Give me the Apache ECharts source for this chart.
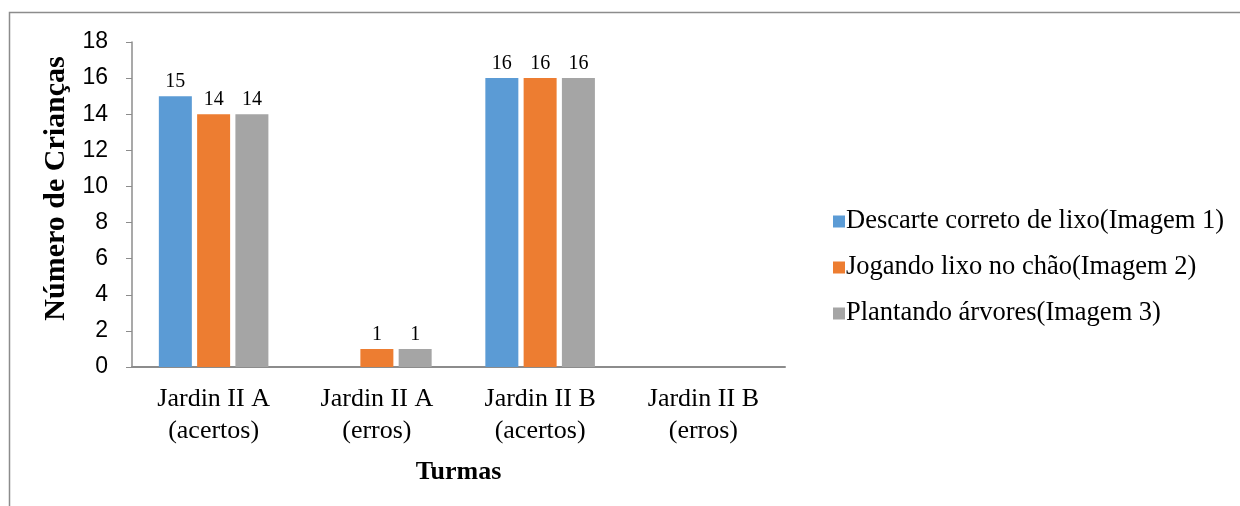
<!DOCTYPE html>
<html><head><meta charset="utf-8">
<script src="https://cdn.jsdelivr.net/npm/echarts@6/dist/echarts.min.js"></script>
<style>html,body{margin:0;padding:0;background:#fff}#c{width:1240px;height:506px}</style>
</head><body><div id="c"></div>
<script>
const categories = ['Jardin II A\n(acertos)', 'Jardin II A\n(erros)', 'Jardin II B\n(acertos)', 'Jardin II B\n(erros)'];
const seriesNames = ['Descarte correto de lixo(Imagem 1)', 'Jogando lixo no chão(Imagem 2)', 'Plantando árvores(Imagem 3)'];
const imagem1 = [15, 0, 16, 0];
const imagem2 = [14, 1, 16, 0];
const imagem3 = [14, 1, 16, 0];
const colors = ['#5B9BD5', '#ED7D31', '#A5A5A5'];
const serif = '"Liberation Serif", "Times New Roman", serif';

const chart = echarts.init(document.getElementById('c'));
const mk = (name, data, color) => ({
  name, type: 'bar', data, barWidth: 33, barGap: '16%',
  itemStyle: { color },
  label: { show: true, position: 'top', distance: 4, fontFamily: serif, fontSize: 20, color: '#000',
    formatter: p => p.value === 0 ? '' : String(p.value) }
});
chart.setOption({
  animation: false,
  graphic: [{ type: 'polyline', shape: { points: [[9.5, 506], [9.5, 12.5], [1240, 12.5]] },
    style: { stroke: '#8c8c8c', lineWidth: 1.5, fill: null } }],
  grid: { left: 132, right: 455, top: 42, bottom: 139 },
  legend: {
    orient: 'vertical', left: 828, top: 203, itemWidth: 12, itemHeight: 12, itemGap: 19,
    icon: 'rect',
    textStyle: { fontFamily: serif, fontSize: 26.5, color: '#000', padding: [0, 0, 0, -4] },
    data: seriesNames
  },
  xAxis: {
    type: 'category', data: categories,
    name: 'Turmas', nameLocation: 'middle', nameGap: 92,
    nameTextStyle: { fontFamily: serif, fontSize: 26, fontWeight: 'bold', color: '#000' },
    axisLine: { lineStyle: { color: '#8c8c8c', width: 2 } },
    axisTick: { show: false },
    axisLabel: { fontFamily: serif, fontSize: 26, color: '#000', lineHeight: 32, margin: 16 }
  },
  yAxis: {
    type: 'value', min: 0, max: 18, interval: 2,
    name: 'Número de Crianças', nameLocation: 'middle', nameGap: 60, nameRotate: 90,
    nameTextStyle: { fontFamily: serif, fontSize: 30, fontWeight: 'bold', color: '#000', padding: [0, 0, 0, 32] },
    axisLine: { show: true, lineStyle: { color: '#8c8c8c', width: 1.5 } },
    axisTick: { show: true, length: 6, lineStyle: { color: '#8c8c8c' } },
    splitLine: { show: false },
    axisLabel: { fontFamily: '"Liberation Sans", Arial, sans-serif', fontSize: 23, color: '#000', margin: 24 }
  },
  series: [mk(seriesNames[0], imagem1, colors[0]), mk(seriesNames[1], imagem2, colors[1]), mk(seriesNames[2], imagem3, colors[2])]
});
</script></body></html>
